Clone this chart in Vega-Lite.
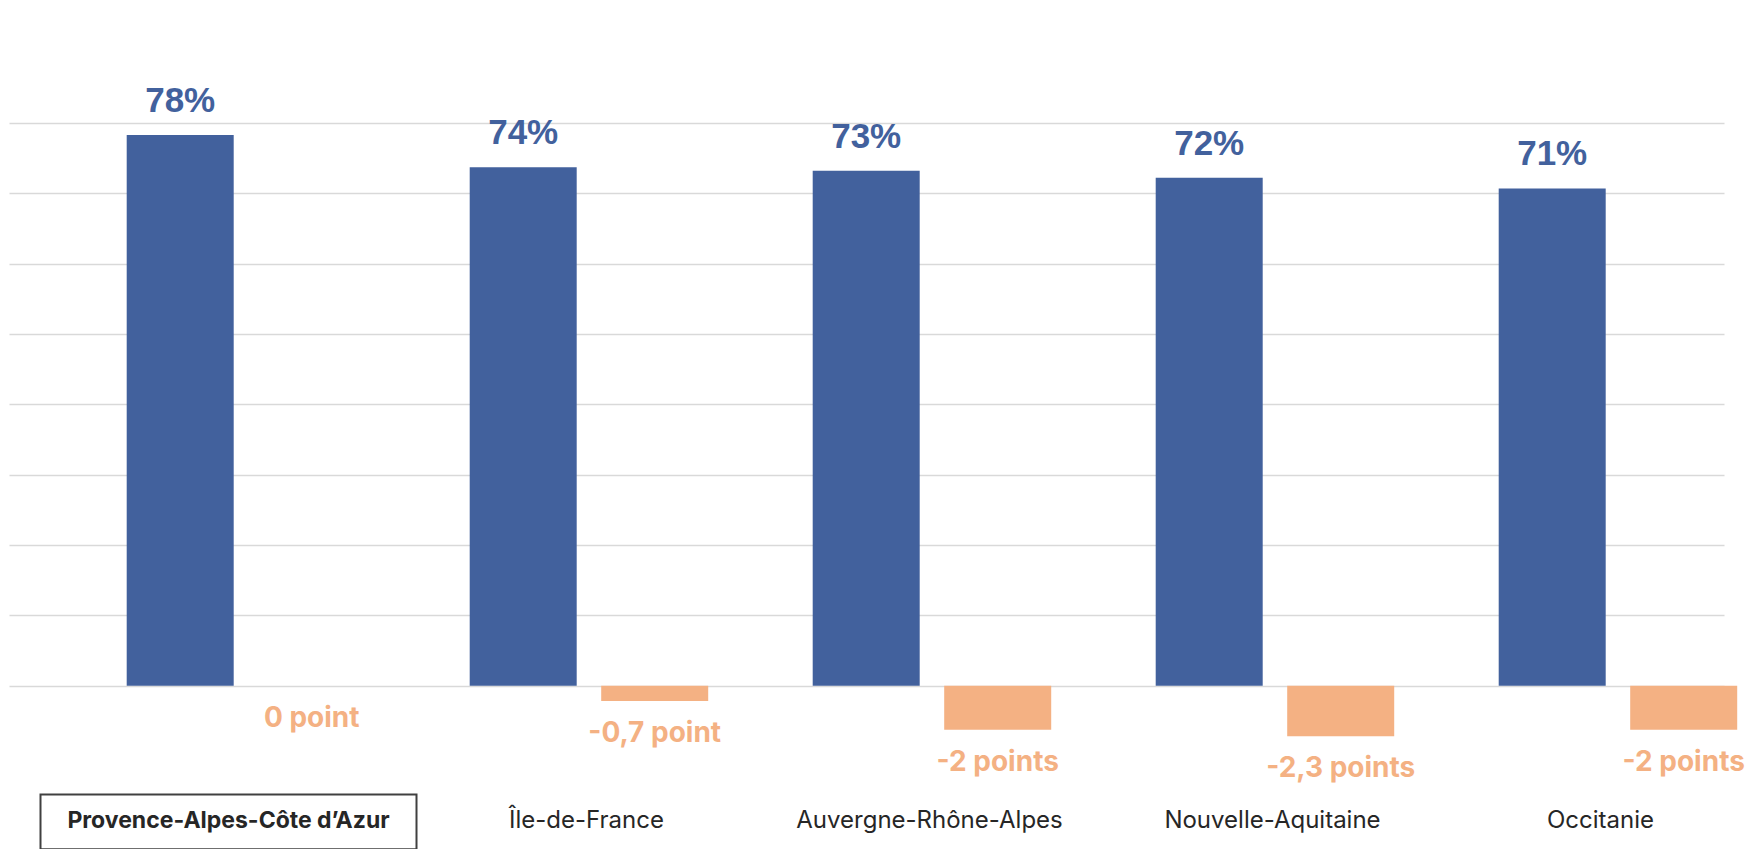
{
  "$schema": "https://vega.github.io/schema/vega-lite/v6.json",
  "autosize": "none",
  "width": 1715,
  "height": 675,
  "padding": {"left": 9, "top": 123, "right": 22, "bottom": 51},
  "background": "white",
  "config": {"view": {"stroke": null}},
  "data": {
    "values": [
      {"region": "Provence-Alpes-Côte d’Azur", "serie": "taux", "value": 0.783, "label": ""},
      {"region": "Île-de-France", "serie": "taux", "value": 0.737, "label": ""},
      {"region": "Auvergne-Rhône-Alpes", "serie": "taux", "value": 0.732, "label": ""},
      {"region": "Nouvelle-Aquitaine", "serie": "taux", "value": 0.722, "label": ""},
      {"region": "Occitanie", "serie": "taux", "value": 0.707, "label": ""},
      {"region": "Provence-Alpes-Côte d’Azur", "serie": "evol", "value": 0, "label": "0 point"},
      {"region": "Île-de-France", "serie": "evol", "value": -0.7, "label": "-0,7 point"},
      {"region": "Auvergne-Rhône-Alpes", "serie": "evol", "value": -2, "label": "-2 points"},
      {"region": "Nouvelle-Aquitaine", "serie": "evol", "value": -2.3, "label": "-2,3 points"},
      {"region": "Occitanie", "serie": "evol", "value": -2, "label": "-2 points"}
    ]
  },
  "resolve": {"scale": {"y": "independent"}, "axis": {"y": "independent"}},
  "layer": [
    {
      "transform": [{"filter": "datum.serie == 'taux'"}],
      "encoding": {
        "x": {
          "field": "region", "type": "nominal", "sort": null,
          "scale": {"paddingInner": 0, "paddingOuter": 0},
          "axis": {
            "title": null, "domain": false, "ticks": false, "labelAngle": 0,
            "labelFont": "Inter", "labelFontSize": 24, "labelColor": "#262626",
            "labelBaseline": "middle", "labelPadding": 22, "labelLimit": 600,
            "labelOffset": {"condition": {"test": "datum.value == 'Provence-Alpes-Côte d’Azur' || datum.value == 'Occitanie'", "value": 48}, "value": 63},
            "labelFontSize": {"condition": {"test": "datum.value == 'Provence-Alpes-Côte d’Azur'", "value": 23}, "value": 24},
            "labelFontWeight": {"condition": {"test": "datum.value == 'Provence-Alpes-Côte d’Azur'", "value": "bold"}, "value": "normal"}
          }
        },
        "xOffset": {"field": "serie", "type": "nominal", "scale": {"domain": ["taux", "evol"], "range": [117.7, 356.2], "paddingInner": 0.1863, "paddingOuter": 0}},
        "y": {
          "field": "value", "type": "quantitative",
          "scale": {"domain": [-0.1597, 0.8], "nice": false, "zero": false},
          "axis": {"title": null, "labels": false, "ticks": false, "domain": false, "grid": true,
                   "values": [0, 0.1, 0.2, 0.3, 0.4, 0.5, 0.6, 0.7, 0.8],
                   "gridColor": "#D9D9D9", "gridWidth": 1.6}
        }
      },
      "layer": [
        {"mark": {"type": "bar", "color": "#42619D"}},
        {"mark": {"type": "text", "font": "Liberation Sans", "fontWeight": "bold", "fontSize": 35, "color": "#42619D", "baseline": "middle", "dy": -34},
         "encoding": {"text": {"field": "value", "type": "quantitative", "format": ".0%"}}}
      ]
    },
    {
      "encoding": {
        "x": {"field": "region", "type": "nominal", "sort": null},
        "y": {
          "field": "value", "type": "quantitative",
          "scale": {"domain": [-5.105, 25.58], "nice": false, "zero": false},
          "axis": null
        }
      },
      "layer": [
        {"transform": [{"filter": "datum.serie == 'evol'"}],
         "mark": {"type": "bar", "color": "#F4B183"},
         "encoding": {"xOffset": {"field": "serie", "type": "nominal", "scale": {"domain": ["taux", "evol"], "range": [117.7, 356.2], "paddingInner": 0.1863, "paddingOuter": 0}}}},
        {"transform": [{"filter": "datum.serie == 'evol'"}],
         "mark": {"type": "text", "font": "Inter", "fontWeight": "bold", "fontSize": 28, "color": "#F4B183", "baseline": "middle", "dy": 33},
         "encoding": {
           "xOffset": {"field": "serie", "type": "nominal", "scale": {"domain": ["taux", "evol"], "range": [117.7, 356.2], "paddingInner": 0.1863, "paddingOuter": 0}},
           "text": {"field": "label", "type": "nominal"}}},
        {"transform": [{"filter": "datum.serie == 'taux' && datum.region == 'Provence-Alpes-Côte d’Azur'"}],
         "mark": {"type": "bar", "fill": null, "stroke": "#404040", "strokeWidth": 2, "width": 376, "xOffset": 48},
         "encoding": {"y": {"datum": -4.95}, "y2": {"datum": -7.43}}}
      ]
    }
  ]
}
